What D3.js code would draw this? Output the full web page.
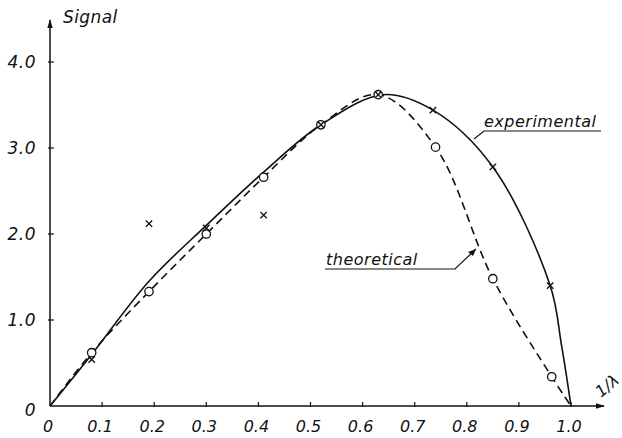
<!DOCTYPE html>
<html>
<head>
<meta charset="utf-8">
<script src="https://cdn.jsdelivr.net/npm/d3@7"></script>
<style>
  body { margin: 0; background: #fff; }
  svg text { font-family: "DejaVu Sans", sans-serif; font-style: italic; fill: #111; }
</style>
</head>
<body>
<svg id="chart" width="622" height="438"></svg>
<script>
// data
const xTicks = [0, 0.1, 0.2, 0.3, 0.4, 0.5, 0.6, 0.7, 0.8, 0.9, 1.0]
const yTicks = [0, 1.0, 2.0, 3.0, 4.0]

// measured points
const expPoints = [[0.08, 0.54], [0.19, 2.12], [0.30, 2.07], [0.41, 2.22], [0.52, 3.27],
  [0.63, 3.62], [0.735, 3.44], [0.85, 2.78], [0.96, 1.40]]
const theoPoints = [[0.08, 0.62], [0.19, 1.33], [0.30, 2.0], [0.41, 2.66], [0.52, 3.27],
  [0.63, 3.62], [0.74, 3.01], [0.85, 1.48], [0.963, 0.34]]

// drawn curves
const expCurve = [[0, 0], [0.08, 0.6], [0.19, 1.45], [0.30, 2.1], [0.41, 2.72], [0.52, 3.27],
  [0.64, 3.62], [0.735, 3.44], [0.85, 2.78], [0.96, 1.40], [0.982, 0.7], [1.0, 0]]
const theoCurve = [[0, 0], [0.08, 0.62], [0.19, 1.33], [0.30, 2.0], [0.41, 2.66], [0.52, 3.27],
  [0.63, 3.62], [0.74, 3.01], [0.85, 1.48], [0.963, 0.34], [1.0, 0]]

const svg = d3.select("#chart")

const x = d3.scaleLinear().domain([0, 1]).range([50, 571])
const y = d3.scaleLinear().domain([0, 4]).range([406, 62])

// axes
svg.append("defs").append("marker")
  .attr("id", "arr")
  .attr("viewBox", "0 0 10 10")
  .attr("refX", 9).attr("refY", 5)
  .attr("markerWidth", 9).attr("markerHeight", 9)
  .attr("markerUnits", "userSpaceOnUse")
  .attr("orient", "auto")
  .append("path").attr("d", "M0,2 L10,5 L0,8 Z").attr("fill", "#111")

svg.append("line")
  .attr("x1", x(0)).attr("y1", y(0)).attr("x2", 604).attr("y2", y(0))
  .attr("stroke", "#111").attr("stroke-width", 1.5).attr("marker-end", "url(#arr)")
svg.append("line")
  .attr("x1", x(0)).attr("y1", y(0)).attr("x2", x(0)).attr("y2", 20)
  .attr("stroke", "#111").attr("stroke-width", 1.5).attr("marker-end", "url(#arr)")

// tick marks
svg.selectAll(".xt").data(xTicks.slice(1)).join("line")
  .attr("x1", d => x(d)).attr("x2", d => x(d))
  .attr("y1", y(0) - 4).attr("y2", y(0) + 1)
  .attr("stroke", "#111").attr("stroke-width", 1.2)
svg.selectAll(".yt").data(yTicks.slice(1)).join("line")
  .attr("x1", x(0) - 2).attr("x2", x(0) + 4)
  .attr("y1", d => y(d)).attr("y2", d => y(d))
  .attr("stroke", "#111").attr("stroke-width", 1.2)

// tick labels
svg.selectAll(".xl").data(xTicks).join("text")
  .attr("x", d => x(d) - 2).attr("y", 432)
  .attr("text-anchor", "middle").attr("font-size", 16)
  .text(d => d === 0 ? "0" : d.toFixed(1))
svg.selectAll(".yl").data(yTicks).join("text")
  .attr("x", 36).attr("y", d => y(d) + 6 + (d === 0 ? 4 : 0))
  .attr("text-anchor", "end").attr("font-size", 17).attr("letter-spacing", 0.5)
  .text(d => d === 0 ? "0" : d.toFixed(1))

svg.append("text").attr("x", 63).attr("y", 23).attr("font-size", 17)
  .attr("letter-spacing", 0.4).text("Signal")
svg.append("text").attr("font-size", 16)
  .attr("transform", "translate(601,398) rotate(-40)")
  .text("1/λ")

// curves
const line = d3.line().x(d => x(d[0])).y(d => y(d[1])).curve(d3.curveCatmullRom.alpha(0.5))

svg.append("path").datum(expCurve).attr("d", line)
  .attr("fill", "none").attr("stroke", "#111").attr("stroke-width", 1.6)
svg.append("path").datum(theoCurve).attr("d", line)
  .attr("fill", "none").attr("stroke", "#111").attr("stroke-width", 1.6)
  .attr("stroke-dasharray", "8,5")

// markers
svg.selectAll(".circ").data(theoPoints).join("circle")
  .attr("cx", d => x(d[0])).attr("cy", d => y(d[1])).attr("r", 4.2)
  .attr("fill", "#fff").attr("stroke", "#111").attr("stroke-width", 1.3)

const s = 3.2
svg.selectAll(".cross").data(expPoints).join("path")
  .attr("d", d => {
    const cx = x(d[0]), cy = y(d[1])
    return `M${cx - s},${cy - s}L${cx + s},${cy + s}M${cx - s},${cy + s}L${cx + s},${cy - s}`
  })
  .attr("stroke", "#111").attr("stroke-width", 1.4)

// labels with leaders
svg.append("text").attr("x", 484).attr("y", 127).attr("font-size", 16)
  .attr("letter-spacing", 0.5).text("experimental")
svg.append("path").attr("d", "M601,131 L484,131 L474,139")
  .attr("fill", "none").attr("stroke", "#111").attr("stroke-width", 1.2)

svg.append("text").attr("x", 326).attr("y", 265).attr("font-size", 16)
  .attr("letter-spacing", 0.5).text("theoretical")
svg.append("path").attr("d", "M325,269 L455,269 L476,249")
  .attr("fill", "none").attr("stroke", "#111").attr("stroke-width", 1.2)
svg.append("path").attr("d", "M476,249 L468,252 L473,256 Z").attr("fill", "#111")
</script>
</body>
</html>
